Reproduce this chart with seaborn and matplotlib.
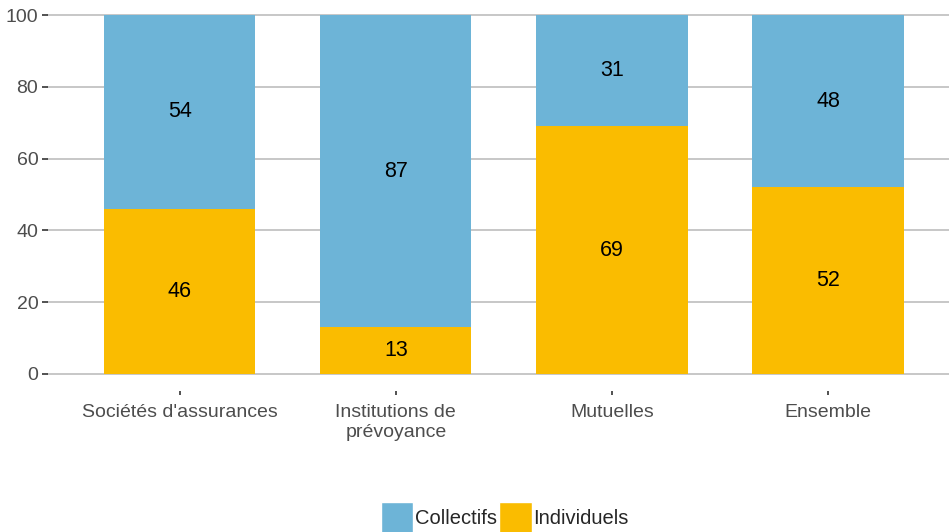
import pandas as pd
import seaborn as sns
from matplotlib import pyplot as plt
from matplotlib.patches import Patch

categories = ["Sociétés d'assurances", "Institutions de\nprévoyance", "Mutuelles", "Ensemble"]
individuels = [46, 13, 69, 52]
collectifs = [54, 87, 31, 48]

blue = "#6DB4D7"
yellow = "#FABC00"

df = pd.DataFrame({"cat": categories, "ind": individuels, "col": collectifs})
df["total"] = df["ind"] + df["col"]

sns.set_theme(style="white")
plt.rcParams["font.family"] = ["Liberation Sans", "DejaVu Sans"]

fig = plt.figure(figsize=(9.49, 5.32), dpi=100)
ax = fig.add_axes([48 / 949, 1 - 374 / 532, 1 - 48 / 949, (374 - 15) / 532])

sns.barplot(data=df, x="cat", y="total", color=blue, width=0.7, saturation=1, linewidth=0, ax=ax)
sns.barplot(data=df, x="cat", y="ind", color=yellow, width=0.7, saturation=1, linewidth=0, ax=ax)

# value labels in the middle of each segment
for i, row in df.iterrows():
    ax.text(i, row["ind"] / 2, str(row["ind"]), ha="center", va="center", fontsize=15.5, color="black")
    ax.text(i, row["ind"] + row["col"] / 2, str(row["col"]), ha="center", va="center", fontsize=15.5, color="black")

ax.set_xlim(-0.61, 3.56)
ax.set_ylim(0, 100)
ax.set_yticks([0, 20, 40, 60, 80, 100])
ax.yaxis.grid(True, color="#BEBEBE", linewidth=1.2)
ax.set_axisbelow(True)
for s in ax.spines.values():
    s.set_visible(False)
ax.spines["bottom"].set_position(("outward", 12.5))

ax.tick_params(axis="y", left=True, length=4, width=1.2, color="#333333", pad=3, labelsize=14, labelcolor="#4D4D4D")
ax.tick_params(axis="x", bottom=True, length=3, width=1.2, color="#333333", pad=6, labelsize=14, labelcolor="#4D4D4D")
for lab in ax.get_xticklabels():
    lab.set_linespacing(1.25)
for line in ax.get_ygridlines():
    line.set_clip_on(False)

ax.set_xlabel("")
ax.set_ylabel("")

handles = [Patch(facecolor=blue, label="Collectifs"), Patch(facecolor=yellow, label="Individuels")]
fig.legend(handles=handles, loc="center", bbox_to_anchor=(505 / 949, 1 - 518 / 532), ncol=2, frameon=False,
           handlelength=1.6, handleheight=2.0, handletextpad=0.1, columnspacing=0.1, fontsize=14.5,
           borderpad=0)

plt.savefig("out.png", dpi=100)
